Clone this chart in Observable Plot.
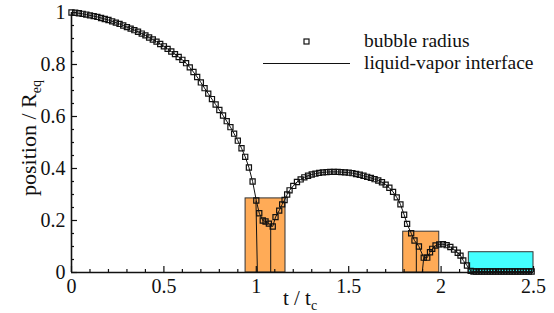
<!DOCTYPE html>
<html><head><meta charset="utf-8">
<script src="https://cdn.jsdelivr.net/npm/d3@7"></script>
<script src="https://cdn.jsdelivr.net/npm/@observablehq/plot@0.6"></script>
<style>body{margin:0;background:#fff}</style>
</head><body><div id="chart"></div>
<script>
// bubble radius samples (t / tc, position / Req)
const radiusT = [0.00,0.02,0.04,0.06,0.08,0.10,0.12,0.14,0.16,0.18,0.20,0.22,0.24,0.26,0.28,0.30,0.32,0.34,0.36,0.38,0.40,0.42,0.44,0.46,0.48,0.50,0.52,0.54,0.56,0.58,0.60,0.62,0.64,0.66,0.68,0.70,0.72,0.74,0.76,0.78,0.80,0.82,0.84,0.86,0.88,0.90,0.92,0.94,0.96,0.98,1.00,
  1.016,1.035,1.050,1.068,1.089,1.104,1.124,1.140,1.153,1.167,
  1.18,1.20,1.22,1.24,1.26,1.28,1.30,1.32,1.34,1.36,1.38,1.40,1.42,1.44,1.46,1.48,1.50,1.52,1.54,1.56,1.58,1.60,1.62,1.64,1.66,1.68,1.70,1.72,1.74,1.76,1.78,1.80,
  1.816,1.838,1.856,1.880,1.906,1.925,1.940,1.952,1.970,1.99,2.01,2.03,2.05,2.07,2.09,2.105,2.12,2.14,2.16,
  2.175,2.19,2.205,2.22,2.235,2.25,2.265,2.28,2.295,2.31,2.325,2.34,2.355,2.37,2.385,2.40,2.415,2.43,2.445,2.46,2.475,2.49];
const radiusY = [1.000,0.999,0.997,0.995,0.992,0.989,0.986,0.983,0.979,0.975,0.971,0.966,0.961,0.956,0.950,0.944,0.938,0.932,0.926,0.919,0.912,0.904,0.896,0.888,0.879,0.870,0.860,0.850,0.840,0.829,0.818,0.805,0.789,0.771,0.752,0.731,0.709,0.688,0.667,0.646,0.625,0.604,0.582,0.559,0.534,0.507,0.478,0.445,0.404,0.350,0.277,
  0.228,0.200,0.196,0.188,0.177,0.213,0.238,0.262,0.279,0.300,
  0.316,0.333,0.348,0.358,0.366,0.372,0.377,0.380,0.383,0.385,0.386,0.387,0.387,0.387,0.386,0.385,0.384,0.382,0.379,0.376,0.372,0.368,0.364,0.359,0.354,0.347,0.338,0.326,0.310,0.289,0.262,0.222,
  0.187,0.151,0.123,0.100,0.057,0.057,0.078,0.091,0.104,0.108,0.109,0.105,0.098,0.088,0.076,0.065,0.046,0.027,0.006,
  0.004,0.004,0.004,0.004,0.004,0.004,0.004,0.004,0.004,0.004,0.004,0.004,0.004,0.004,0.004,0.004,0.004,0.004,0.004,0.004,0.004,0.004];

// liquid-vapor interface branches that drop to the axis
const dropT1 = [0.998, 1.078, 1.866, 1.906];
const dropY1 = [0.277, 0.185, 0.110, 0.057];
const dropT2 = [1.006, 1.078, 1.866, 1.898];

// highlighted regions
const boxStart = [0.942, 1.795];
const boxEnd   = [1.158, 1.990];
const boxTop   = [0.285, 0.157];
const vaporStart = [2.150];
const vaporEnd   = [2.500];
const vaporTop   = [0.078];

// ticks
const xMajor = [0, 0.5, 1, 1.5, 2, 2.5];
const xLabels = ["0", "0.5", "1", "1.5", "2", "2.5"];
const xMinor = [0.1,0.2,0.3,0.4,0.6,0.7,0.8,0.9,1.1,1.2,1.3,1.4,1.6,1.7,1.8,1.9,2.1,2.2,2.3,2.4];
const yMajor = [0, 0.2, 0.4, 0.6, 0.8, 1];
const yLabels = ["0", "0.2", "0.4", "0.6", "0.8", "1"];
const yMinor = [0.05,0.1,0.15,0.25,0.3,0.35,0.45,0.5,0.55,0.65,0.7,0.75,0.85,0.9,0.95];

const radius = radiusT.map((t, i) => ({t, y: radiusY[i]}));
const drops = dropT1.map((t, i) => ({t1: t, y1: dropY1[i], t2: dropT2[i]}));
const boxes = boxStart.map((s, i) => ({x1: s, x2: boxEnd[i], top: boxTop[i]}));
const vapor = vaporStart.map((s, i) => ({x1: s, x2: vaporEnd[i], top: vaporTop[i]}));

const ink = "#111";
const font = "'Liberation Serif', 'Times New Roman', serif";

const chart = Plot.plot({
  width: 554, height: 313,
  marginLeft: 71, marginRight: 21, marginTop: 12, marginBottom: 41,
  style: {fontFamily: font, fontSize: "20px", background: "#fff", color: ink, overflow: "visible"},
  x: {domain: [0, 2.5]},
  y: {domain: [0, 1]},
  marks: [
    Plot.rect(boxes, {x1: "x1", x2: "x2", y1: 0, y2: "top", fill: "#ffab57", stroke: "#333", strokeWidth: 1}),
    Plot.rect(vapor, {x1: "x1", x2: "x2", y1: 0, y2: "top", fill: "#44ffff", stroke: "#333", strokeWidth: 1}),
    Plot.line(radius, {x: "t", y: "y", stroke: ink, strokeWidth: 1}),
    Plot.link(drops, {x1: "t1", y1: "y1", x2: "t2", y2: 0, stroke: ink, strokeWidth: 1}),
    Plot.dot(radius, {x: "t", y: "y", symbol: "square", r: 2.9, stroke: ink, strokeWidth: 1.2, fill: "none"}),
    Plot.axisX({ticks: xMajor, tickSize: 0, tickPadding: 6, tickFormat: (d, i) => xLabels[i], label: null, fontSize: 20}),
    Plot.axisX({ticks: xMajor, tickSize: 6, dy: -6, tickFormat: () => "", label: null, stroke: ink, strokeWidth: 1.2}),
    Plot.axisX({ticks: xMinor, tickSize: 3, dy: -3, tickFormat: () => "", label: null, stroke: ink, strokeWidth: 1.2}),
    Plot.axisY({ticks: yMajor, tickSize: 0, tickPadding: 6, tickFormat: (d, i) => yLabels[i], label: null, fontSize: 20}),
    Plot.axisY({ticks: yMajor, tickSize: 6, dx: 6, tickFormat: () => "", label: null, stroke: ink, strokeWidth: 1.2}),
    Plot.axisY({ticks: yMinor, tickSize: 3, dx: 3, tickFormat: () => "", label: null, stroke: ink, strokeWidth: 1.2}),
    Plot.ruleY([0], {stroke: ink, strokeWidth: 1.6}),
    Plot.ruleX([0], {stroke: ink, strokeWidth: 1.6})
  ]
});
document.getElementById("chart").appendChild(chart);

const svg = d3.select(chart);
// x title
const xt = svg.append("text").attr("x", 300).attr("y", 305).attr("text-anchor", "middle")
  .attr("font-family", font).attr("font-size", 21).attr("fill", ink);
xt.append("tspan").text("t / t");
xt.append("tspan").attr("font-size", 14).attr("dy", 5).text("c");
// y title
const yt = svg.append("text").attr("transform", "translate(36,138) rotate(-90)").attr("text-anchor", "middle")
  .attr("font-family", font).attr("font-size", 22).attr("fill", ink);
yt.append("tspan").text("position / R");
yt.append("tspan").attr("font-size", 14).attr("dy", 5).text("eq");
// legend
const lg = svg.append("g").attr("font-family", font).attr("font-size", 19.5).attr("fill", ink).attr("text-anchor", "start");
lg.append("rect").attr("x", 304).attr("y", 39).attr("width", 5).attr("height", 5).attr("fill", "none").attr("stroke", ink).attr("stroke-width", 1.2);
lg.append("text").attr("x", 364).attr("y", 47).text("bubble radius");
lg.append("line").attr("x1", 263).attr("x2", 350).attr("y1", 63.5).attr("y2", 63.5).attr("stroke", ink).attr("stroke-width", 1.2);
lg.append("text").attr("x", 364).attr("y", 69).text("liquid-vapor interface");
</script>
</body></html>
